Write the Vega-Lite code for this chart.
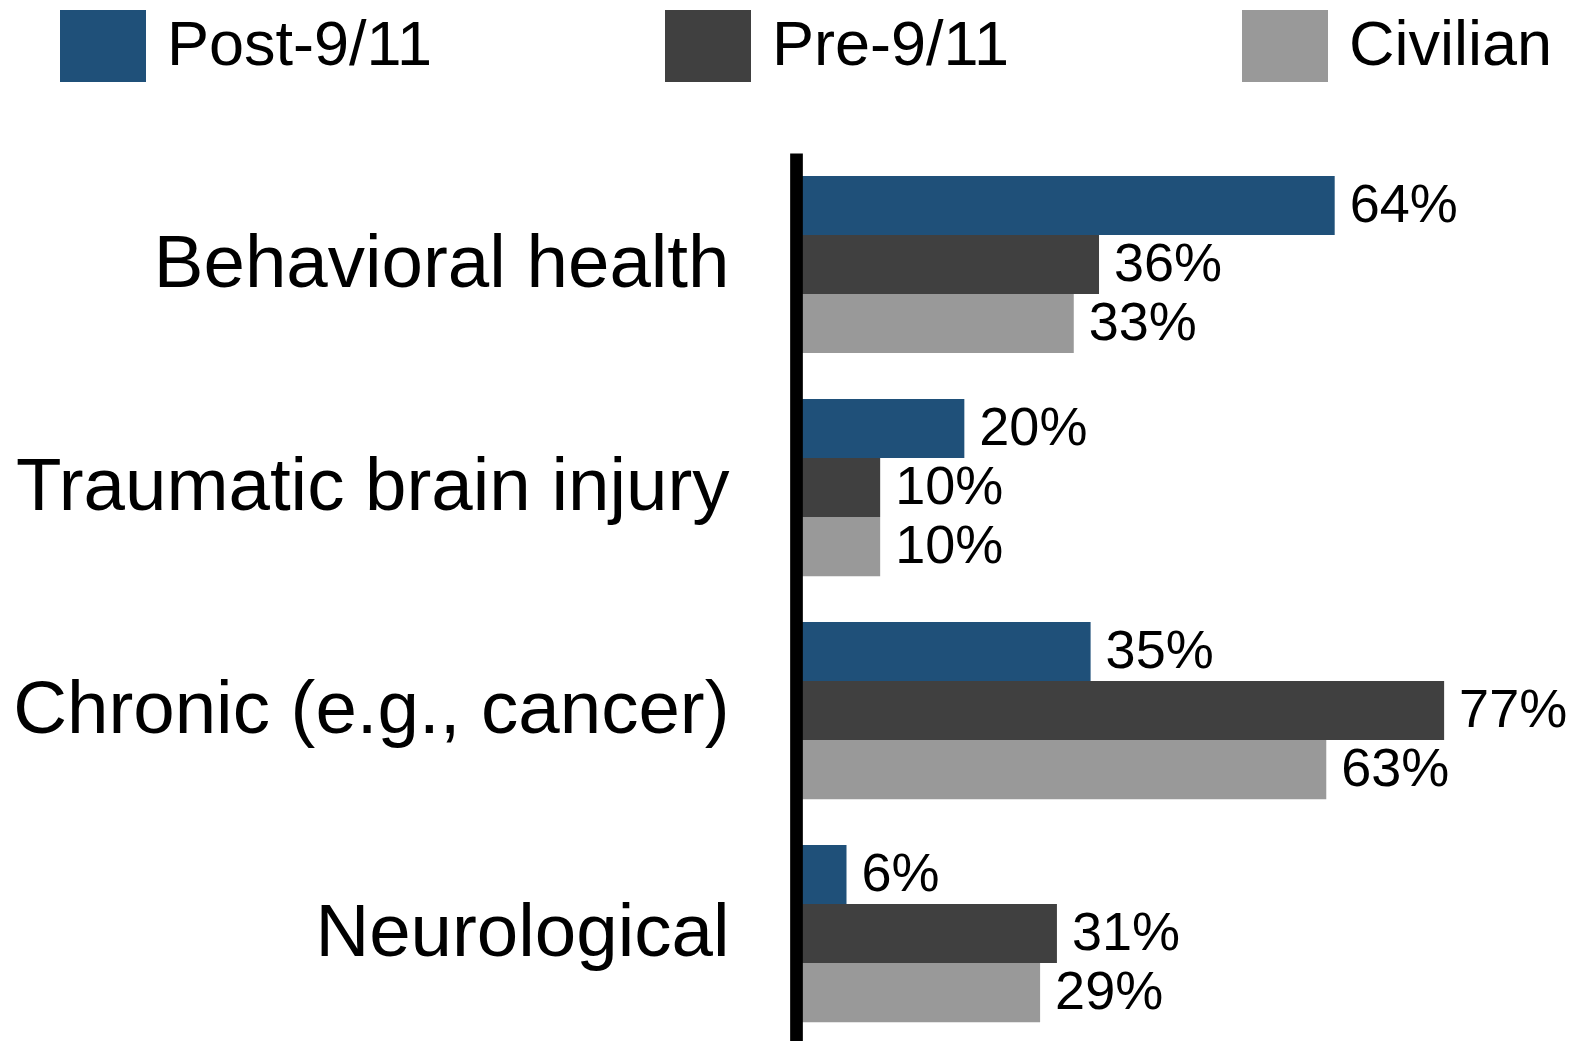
{
  "$schema": "https://vega.github.io/schema/vega-lite/v6.json",
  "autosize": {"type": "none"},
  "padding": {"left": 796, "top": 153, "right": 0, "bottom": 0},
  "width": 787,
  "height": 888,
  "background": "white",
  "config": {"view": {"stroke": null}, "font": "Liberation Sans"},
  "data": {
    "values": [
      {"condition": "Behavioral health", "group": "Post-9/11", "pct": 0.64},
      {"condition": "Behavioral health", "group": "Pre-9/11", "pct": 0.36},
      {"condition": "Behavioral health", "group": "Civilian", "pct": 0.33},
      {"condition": "Traumatic brain injury", "group": "Post-9/11", "pct": 0.20},
      {"condition": "Traumatic brain injury", "group": "Pre-9/11", "pct": 0.10},
      {"condition": "Traumatic brain injury", "group": "Civilian", "pct": 0.10},
      {"condition": "Chronic (e.g., cancer)", "group": "Post-9/11", "pct": 0.35},
      {"condition": "Chronic (e.g., cancer)", "group": "Pre-9/11", "pct": 0.77},
      {"condition": "Chronic (e.g., cancer)", "group": "Civilian", "pct": 0.63},
      {"condition": "Neurological", "group": "Post-9/11", "pct": 0.06},
      {"condition": "Neurological", "group": "Pre-9/11", "pct": 0.31},
      {"condition": "Neurological", "group": "Civilian", "pct": 0.29}
    ]
  },
  "encoding": {
    "y": {
      "field": "condition",
      "type": "nominal",
      "sort": ["Behavioral health", "Traumatic brain injury", "Chronic (e.g., cancer)", "Neurological"],
      "scale": {"paddingInner": 0.206, "paddingOuter": 0.094, "align": 0.55},
      "axis": {
        "title": null,
        "ticks": false,
        "tickSize": 0,
        "grid": false,
        "domainColor": "black",
        "domainWidth": 12.7,
        "labelFontSize": 74.5,
        "labelColor": "black",
        "labelPadding": 67,
        "labelLimit": 1000,
        "zindex": 1
      }
    },
    "yOffset": {
      "field": "group",
      "type": "nominal",
      "sort": ["Post-9/11", "Pre-9/11", "Civilian"],
      "scale": {"paddingInner": 0, "paddingOuter": 0}
    },
    "x": {
      "field": "pct",
      "type": "quantitative",
      "scale": {"domain": [0, 0.935], "nice": false, "zero": true},
      "axis": null
    }
  },
  "layer": [
    {
      "mark": {"type": "bar", "strokeWidth": 0},
      "encoding": {
        "color": {
          "field": "group",
          "type": "nominal",
          "sort": ["Post-9/11", "Pre-9/11", "Civilian"],
          "scale": {"domain": ["Post-9/11", "Pre-9/11", "Civilian"], "range": ["#1F5079", "#404040", "#999999"]},
          "legend": {
            "orient": "none",
            "legendX": -736,
            "legendY": -150,
            "direction": "horizontal",
            "title": null,
            "symbolType": "M-1,-0.837H1V0.837H-1Z",
            "symbolSize": 7396,
            "symbolOpacity": 1,
            "symbolStrokeWidth": 0,
            "labelFontSize": 63,
            "labelColor": "black",
            "labelOffset": 21,
            "labelLimit": 1000,
            "columnPadding": 233,
            "padding": 0
          }
        }
      }
    },
    {
      "mark": {"type": "text", "align": "left", "baseline": "middle", "dx": 15, "fontSize": 54, "color": "black"},
      "encoding": {"text": {"field": "pct", "type": "quantitative", "format": ".0%"}}
    }
  ]
}
